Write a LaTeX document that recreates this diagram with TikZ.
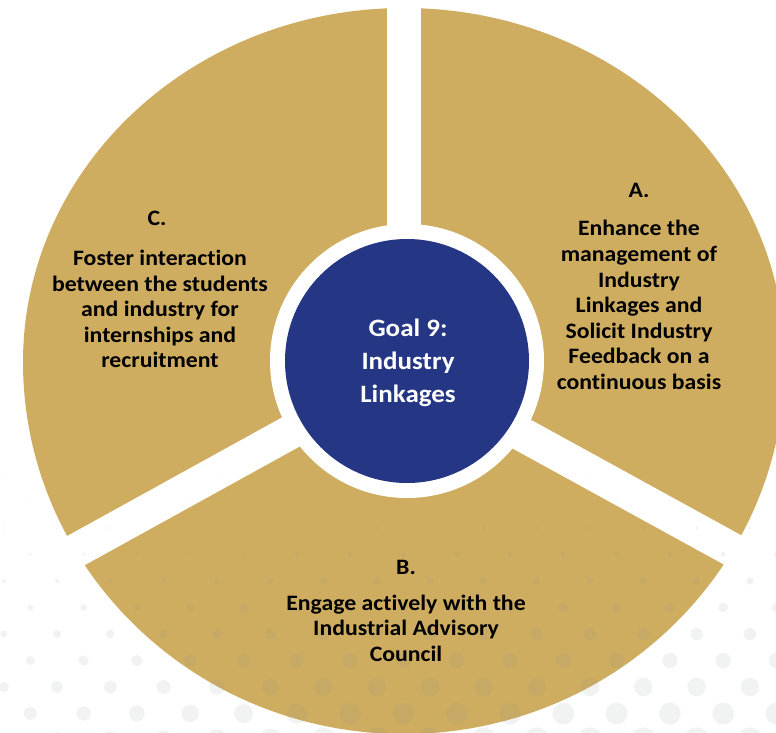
\documentclass[tikz,border=0pt]{standalone}
\usepackage{fontspec}
\setmainfont{Carlito}[FakeStretch=1.08,Ligatures=NoCommon]
\definecolor{gold}{RGB}{207,173,96}
\definecolor{navy}{RGB}{36,54,132}
\definecolor{dotc}{RGB}{120,140,140}
\begin{document}
\begin{tikzpicture}[x=1pt,y=-1pt,
  txt/.style={align=center,font=\bfseries\fontsize{22}{25.6}\selectfont,text=black,inner sep=0pt},
  ctr/.style={align=center,font=\bfseries\fontsize{25}{33}\selectfont,text=white,inner sep=0pt},
  gapband/.style={white,line width=34pt},
  dotfill/.style={fill=dotc,opacity=0.1}]
\useasboundingbox (0,0) rectangle (776,733);
\clip (0,0) rectangle (776,733);
\fill[white] (0,0) rectangle (776,733);
% outer disc
\fill[gold] (785,362) arc[start angle=0,end angle=180,x radius=381,y radius=372]
  arc[start angle=180,end angle=360,x radius=381,y radius=354] -- cycle;
% separating gaps
\coordinate (G) at (404,369.5);
\coordinate (Gtop) at (404,-50);
\coordinate (Gright) at (929.6,658.1);
\coordinate (Gleft) at (-121,659.3);
\draw[gapband] (G) -- (Gtop);
\draw[gapband] (G) -- (Gright);
\draw[gapband] (G) -- (Gleft);
% hub
\coordinate (O) at (407,361);
\node[circle,fill=white,minimum size=274pt,inner sep=0pt] (ring) at (O) {};
\node[circle,fill=navy,minimum size=244pt,inner sep=0pt] (hub) at (O) {};
% faint dotted background
\foreach \k in {0,...,10} {
  \pgfmathsetmacro{\yy}{475+26.5*\k}
  \pgfmathsetmacro{\xo}{mod(\k,2)==0 ? 3.7 : 30.3}
  \foreach \i in {0,...,15} {
    \pgfmathsetmacro{\xx}{\xo+53.3*\i}
    \pgfmathsetmacro{\rr}{max(0.6,11*((\yy-460)/255)^1.5*(0.55+0.45*min(1,\xx/350)))}
    \fill[dotfill] (\xx,\yy) circle[radius=\rr];
  }
}
% texts
\node[txt] (Alab) at (639,190) {A.};
\node[txt] (Atext) at (639,305) {Enhance the\\management of\\Industry\\Linkages and\\Solicit Industry\\Feedback on a\\continuous basis};
\node[txt] (Clab) at (157,218) {C.};
\node[txt] (Ctext) at (160,309) {Foster interaction\\between the students\\and industry for\\internships and\\recruitment};
\node[txt] (Blab) at (406,567) {B.};
\node[txt] (Btext) at (406,628) {Engage actively with the\\Industrial Advisory\\Council};
\node[ctr] (goal) at (408,363) {Goal 9:\\Industry\\Linkages};
\end{tikzpicture}
\end{document}
